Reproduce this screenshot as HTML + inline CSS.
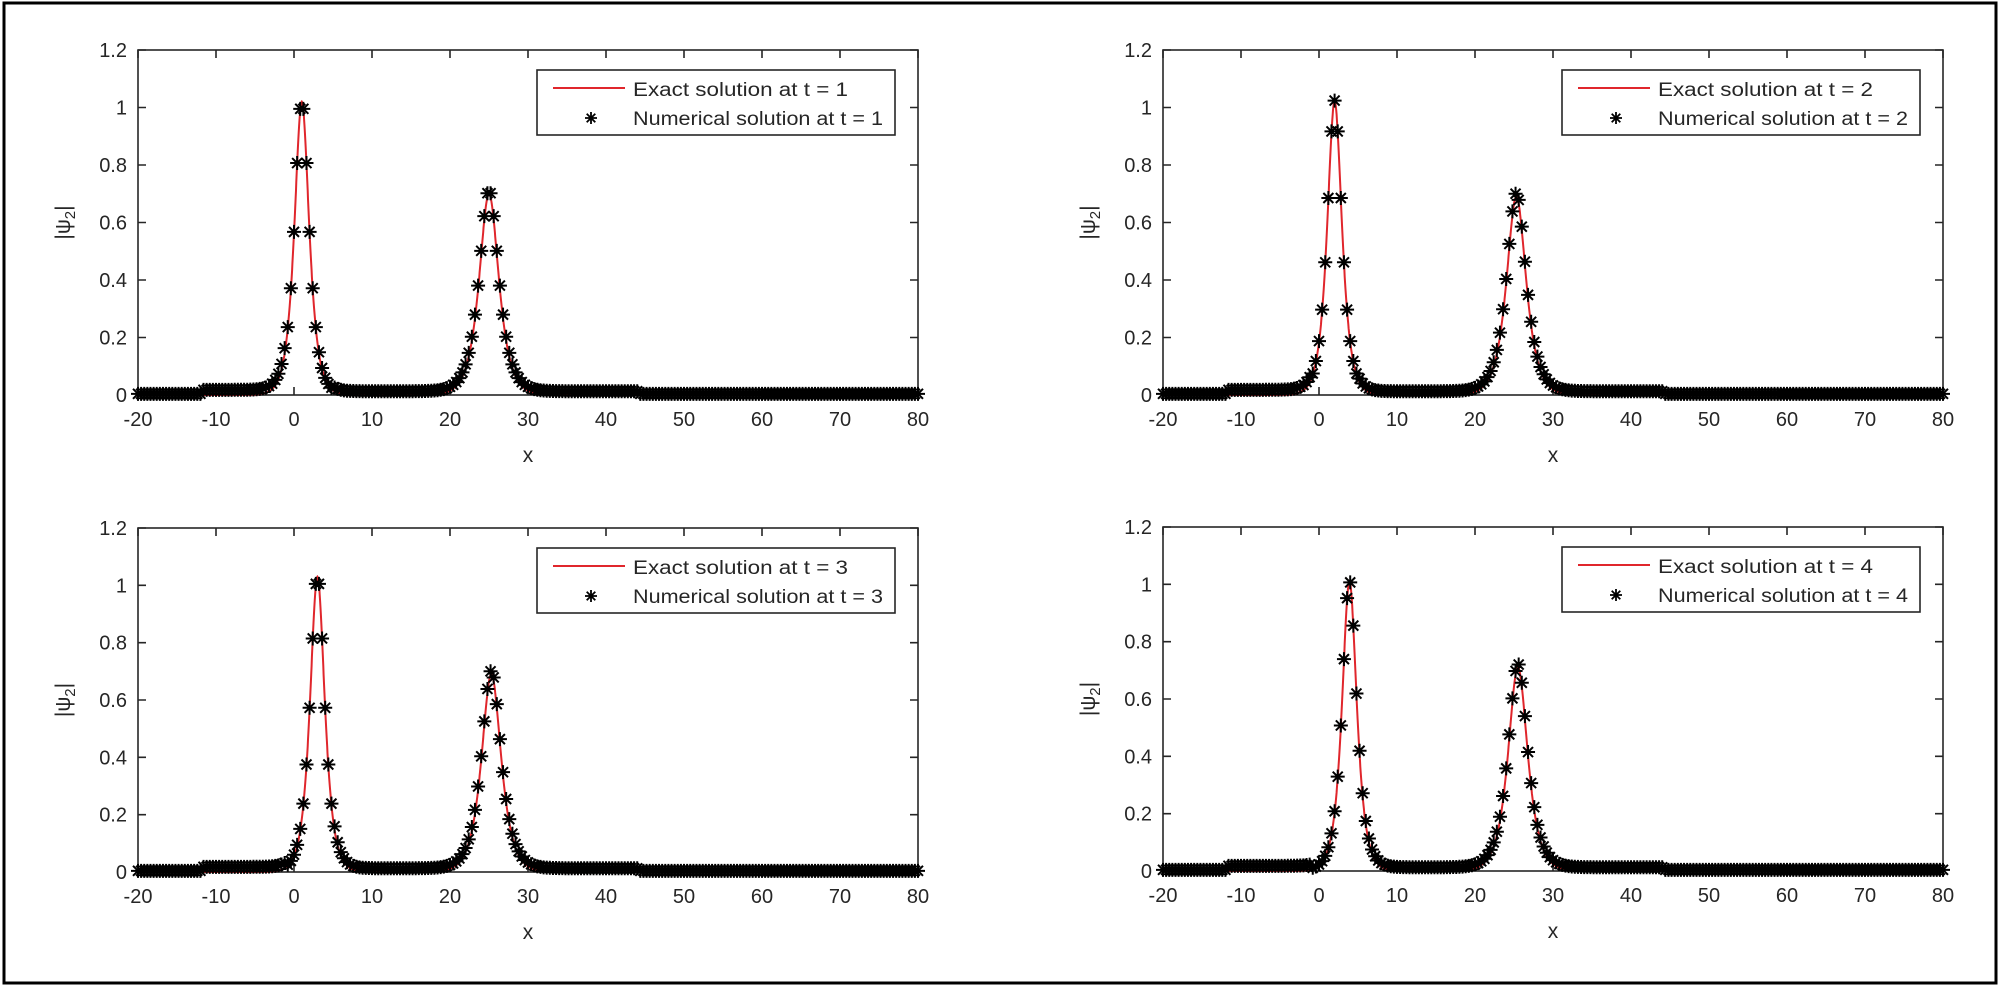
<!DOCTYPE html>
<html><head><meta charset="utf-8"><style>
html,body{margin:0;padding:0;background:#fff;}
svg{display:block;}
text{font-family:"Liberation Sans",sans-serif;fill:#262626;}
</style></head><body>
<svg id="s" width="2000" height="988" xmlns="http://www.w3.org/2000/svg">
<rect x="4" y="3" width="1992" height="980" fill="none" stroke="#000" stroke-width="3"/>
</svg>
<script>
var S=document.getElementById('s'),NS='http://www.w3.org/2000/svg';
function el(t,a,txt){var e=document.createElementNS(NS,t);for(var k in a)e.setAttribute(k,a[k]);if(txt!=null)e.textContent=txt;S.appendChild(e);return e;}
var plots=[
 {L:138,T:50,B:395,t:1,p1:1.0,a1:1.02,p2:25.0,a2:0.70},
 {L:1163,T:50,B:395,t:2,p1:2.0,a1:1.02,p2:25.3,a2:0.69},
 {L:138,T:528,B:872,t:3,p1:3.0,a1:1.03,p2:25.3,a2:0.69},
 {L:1163,T:527,B:871,t:4,p1:3.9,a1:1.01,p2:25.5,a2:0.71}];
function sech(u){return 2/(Math.exp(u)+Math.exp(-u));}
plots.forEach(function(P){
 var W=780,R=P.L+W,H=P.B-P.T;
 function X(x){return P.L+(x+20)/100*W;}
 function Y(y){return P.B-y/1.2*H;}
 function f(x){var v=P.a1*sech(1.2*(x-P.p1))+P.a2*sech(0.9*(x-P.p2));
   if(x>-12&&x<-1)v+=0.014; if(x>5&&x<44)v+=0.009; return v+0.004;}
 var d='';for(var x=-20;x<=80;x+=0.05){d+=(d?'L':'M')+X(x).toFixed(1)+','+Y(P.a1*sech(1.2*(x-P.p1))+P.a2*sech(0.9*(x-P.p2))).toFixed(1);}
 el('rect',{x:P.L,y:P.T,width:W,height:H,fill:'none',stroke:'#262626','stroke-width':1.6});
 var tk='';
 for(var i=0;i<=10;i++){var xx=P.L+i*W/10;tk+='M'+xx+','+P.B+'v-8M'+xx+','+P.T+'v8';
  el('text',{x:xx,y:P.B+31,'font-size':20,'text-anchor':'middle'},String(-20+i*10));}
 for(var j=0;j<=6;j++){var yy=P.B-j*H/6;tk+='M'+P.L+','+yy+'h8M'+R+','+yy+'h-8';
  var lab=['0','0.2','0.4','0.6','0.8','1','1.2'][j];
  el('text',{x:P.L-11,y:yy+7,'font-size':20,'text-anchor':'end'},lab);}
 el('path',{d:tk,stroke:'#262626','stroke-width':1.6,fill:'none'});
 el('text',{x:P.L+W/2,y:P.B+67,'font-size':21,'text-anchor':'middle'},'x');
 var g=el('text',{x:0,y:0,'font-size':21,'text-anchor':'middle',transform:'translate('+(P.L-68)+','+(P.T+H/2)+') rotate(-90)'});
 g.innerHTML='|ψ<tspan font-size="15" dy="5">2</tspan><tspan dy="-5">|</tspan>';
 el('path',{d:d,stroke:'#e0262c','stroke-width':2,fill:'none'});
 var m='',s=7,s2=5;
 for(var x=-20;x<=80.01;x+=0.4){var cx=X(x),cy=Y(f(x));
  m+='M'+(cx-s)+','+cy+'h'+(2*s)+'M'+cx+','+(cy-s)+'v'+(2*s)+'M'+(cx-s2)+','+(cy-s2)+'l'+(2*s2)+','+(2*s2)+'M'+(cx-s2)+','+(cy+s2)+'l'+(2*s2)+','+(-2*s2);}
 el('path',{d:m,stroke:'#000','stroke-width':2,fill:'none'});
 var lx=R-381,ly=P.T+20;
 el('rect',{x:lx,y:ly,width:358,height:65,fill:'#fff',stroke:'#262626','stroke-width':1.6});
 el('line',{x1:lx+16,y1:ly+18,x2:lx+88,y2:ly+18,stroke:'#e0262c','stroke-width':2});
 var cx=lx+54,cy=ly+48,q=6,q2=4.3;
 el('path',{d:'M'+(cx-q)+','+cy+'h'+2*q+'M'+cx+','+(cy-q)+'v'+2*q+'M'+(cx-q2)+','+(cy-q2)+'l'+2*q2+','+2*q2+'M'+(cx-q2)+','+(cy+q2)+'l'+2*q2+','+(-2*q2),stroke:'#000','stroke-width':1.8});
 el('text',{x:lx+96,y:ly+26,'font-size':19,textLength:215,lengthAdjust:'spacingAndGlyphs'},'Exact solution at t = '+P.t);
 el('text',{x:lx+96,y:ly+55,'font-size':19,textLength:250,lengthAdjust:'spacingAndGlyphs'},'Numerical solution at t = '+P.t);
});
</script>
</body></html>
